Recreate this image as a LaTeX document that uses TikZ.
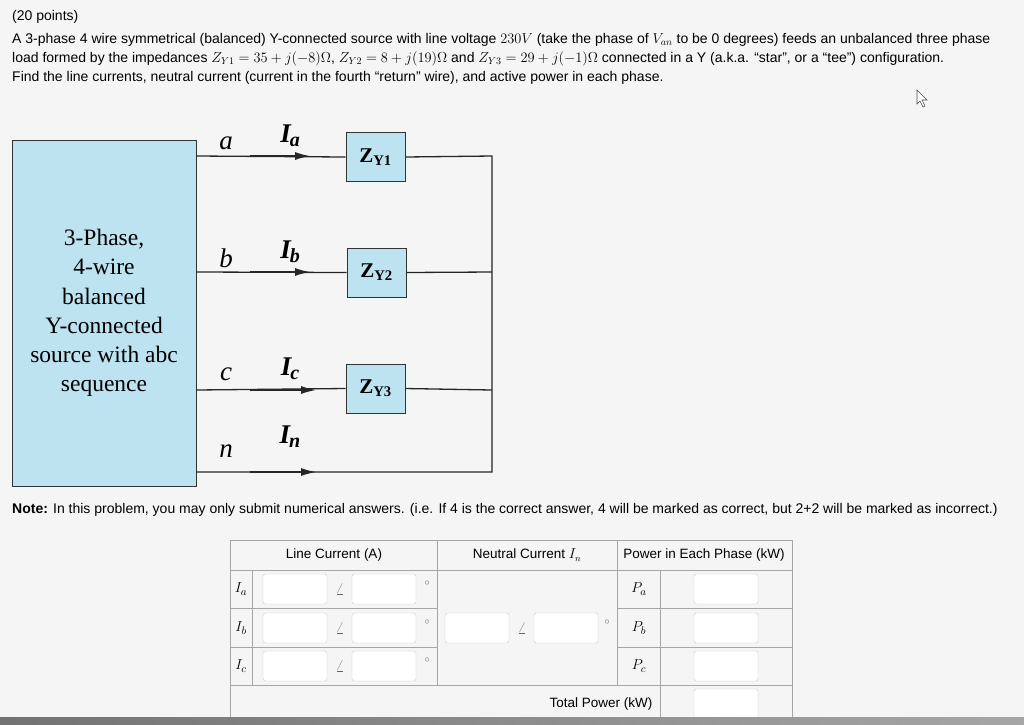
\documentclass[tikz,border=0pt]{standalone}
\usepackage{fontspec}
\usetikzlibrary{arrows.meta}
\newfontfamily\ar{Liberation Sans}
\newfontfamily\tms{Liberation Serif}
\begin{document}
\begin{tikzpicture}[x=1pt,y=-1pt,
  wire/.style={line width=1.3pt,black!85},
  zbox/.style={draw=black!80,fill=cyan!25!white!90!gray,line width=0.8pt,minimum width=59pt,minimum height=49pt,font=\tms\bfseries\fontsize{21}{22}\selectfont},
  lbl/.style={font=\tms\itshape\fontsize{27}{28}\selectfont},
  cur/.style={font=\tms\bfseries\itshape\fontsize{27}{28}\selectfont},
  txt/.style={font=\ar\fontsize{14}{16}\selectfont,anchor=west,inner sep=0},
  inbox/.style={draw=black!20,fill=white,rounded corners=2.5pt,minimum width=64pt,minimum height=30pt,inner sep=0},
  tl/.style={draw=black!35,line width=0.8pt},
  tm/.style={font=\fontsize{15}{16}\selectfont},
  arr/.style={-{Latex[length=15pt,width=8pt]},wire}]
\useasboundingbox (0,0) rectangle (1024,724);
\fill[white!96!black] (0,0) rectangle (1024,724);
% text
\node[txt] (t0) at (12,17) {(20 points)};
\node[txt] (t1) at (12,40) {A 3-phase 4 wire symmetrical (balanced) Y-connected source with line voltage $230V$ (take the phase of $V_{an}$ to be 0 degrees) feeds an unbalanced three phase};
\node[txt] (t2) at (12,59) {load formed by the impedances $Z_{Y1}=35+j(-8)\Omega$, $Z_{Y2}=8+j(19)\Omega$ and $Z_{Y3}=29+j(-1)\Omega$ connected in a Y (a.k.a. “star”, or a “tee”) configuration.};
\node[txt] (t3) at (12,78) {Find the line currents, neutral current (current in the fourth “return” wire), and active power in each phase.};
% cursor
\draw[black!70,fill=white,line width=0.6pt] (917,90) -- (917,104) -- (920,101) -- (923,107) -- (925,106) -- (922,100) -- (927,100) -- cycle;
% source
\node[draw=black!80,fill=cyan!25!white!90!gray,line width=0.8pt,minimum width=184pt,minimum height=346pt,inner sep=0,
  font=\tms\fontsize{23.5}{29.3}\selectfont,align=center] (src) at (104,313) {3-Phase,\\4-wire\\balanced\\Y-connected\\source with abc\\sequence};
\node[zbox] (z1) at (375.5,157) {Z\textsubscript{Y1}};
\node[zbox] (z2) at (376.5,272.5) {Z\textsubscript{Y2}};
\node[zbox] (z3) at (375.5,388.5) {Z\textsubscript{Y3}};
\coordinate (ra) at (492,156);
\coordinate (rn) at (492,472);
\coordinate (ma) at (310,156);
\coordinate (mb) at (310,272);
\coordinate (mc) at (316,390);
\coordinate (mn) at (316,472);
\draw[wire] (196,156) -- (z1.west) (z1.east) -- (ra) -- (rn) -- (196,472);
\draw[wire] (196,272) -- (z2.west) (z2.east) -- (492,272);
\draw[wire] (196,390) -- (z3.west) (z3.east) -- (492,390);
\draw[arr] (250,156) -- (ma);
\draw[arr] (250,272) -- (mb);
\draw[arr] (250,390) -- (mc);
\draw[arr] (250,472) -- (mn);
\node[lbl] (la) at (226,143) {a};
\node[lbl] (lb) at (226,258) {b};
\node[lbl] (lc) at (226,374) {c};
\node[lbl] (ln) at (226,451) {n};
\node[cur] (ia) at (290,136) {I\kern-1pt\raisebox{-4pt}{\fontsize{20}{20}\selectfont a}};
\node[cur] (ib) at (290,252) {I\kern-1pt\raisebox{-4pt}{\fontsize{20}{20}\selectfont b}};
\node[cur] (ic) at (290,369) {I\kern-1pt\raisebox{-4pt}{\fontsize{20}{20}\selectfont c}};
\node[cur] (in) at (290,437) {I\kern-1pt\raisebox{-4pt}{\fontsize{20}{20}\selectfont n}};
% note
\node[txt] (note) at (12,510) {\textbf{Note:} In this problem, you may only submit numerical answers. (i.e. If 4 is the correct answer, 4 will be marked as correct, but 2+2 will be marked as incorrect.)};
% table
\draw[tl] (230,720) -- (230,540) -- (792,540) -- (792,720);
\draw[tl] (230,570) -- (792,570);
\draw[tl] (230,608) -- (437,608) (617,608) -- (792,608);
\draw[tl] (230,647) -- (437,647) (617,647) -- (792,647);
\draw[tl] (230,685) -- (792,685);
\draw[tl] (437,540) -- (437,685) (617,540) -- (617,685) (660,570) -- (660,720) (252,570) -- (252,685);
\node[font=\ar\fontsize{13.5}{15}\selectfont] (h1) at (334,555) {Line Current (A)};
\node[font=\ar\fontsize{13.5}{15}\selectfont] (h2) at (527,555) {Neutral Current $I_n$};
\node[font=\ar\fontsize{13.5}{15}\selectfont] (h3) at (704,555) {Power in Each Phase (kW)};
\foreach \r/\y in {a/589,b/628,c/666}{
  \node[tm] (I\r) at (241,\y) {$I_\r$};
  \node[inbox] (m\r) at (295,\y) {};
  \node[tm,text=black!60] (ang\r) at (340,\y) {$\angle$};
  \node[inbox] (p\r) at (384,\y) {};
  \node[text=black!60] (deg\r) at (427,\y-6) {$\circ$};
  \node[tm] (P\r) at (639,\y) {$P_\r$};
  \node[inbox] (pw\r) at (726,\y) {};
}
\node[inbox] (nm) at (477,628) {};
\node[tm,text=black!60] (nang) at (522,628) {$\angle$};
\node[inbox] (np) at (566,628) {};
\node[text=black!60] (ndeg) at (607,622) {$\circ$};
\node[font=\ar\fontsize{13.5}{15}\selectfont,anchor=east] (tot) at (656,704) {Total Power (kW)};
\node[inbox,minimum height=34pt] (tp) at (726,706) {};
% bottom bar
\shade[left color=black!55,right color=black!35] (0,717) rectangle (1024,724);
\end{tikzpicture}
\end{document}
